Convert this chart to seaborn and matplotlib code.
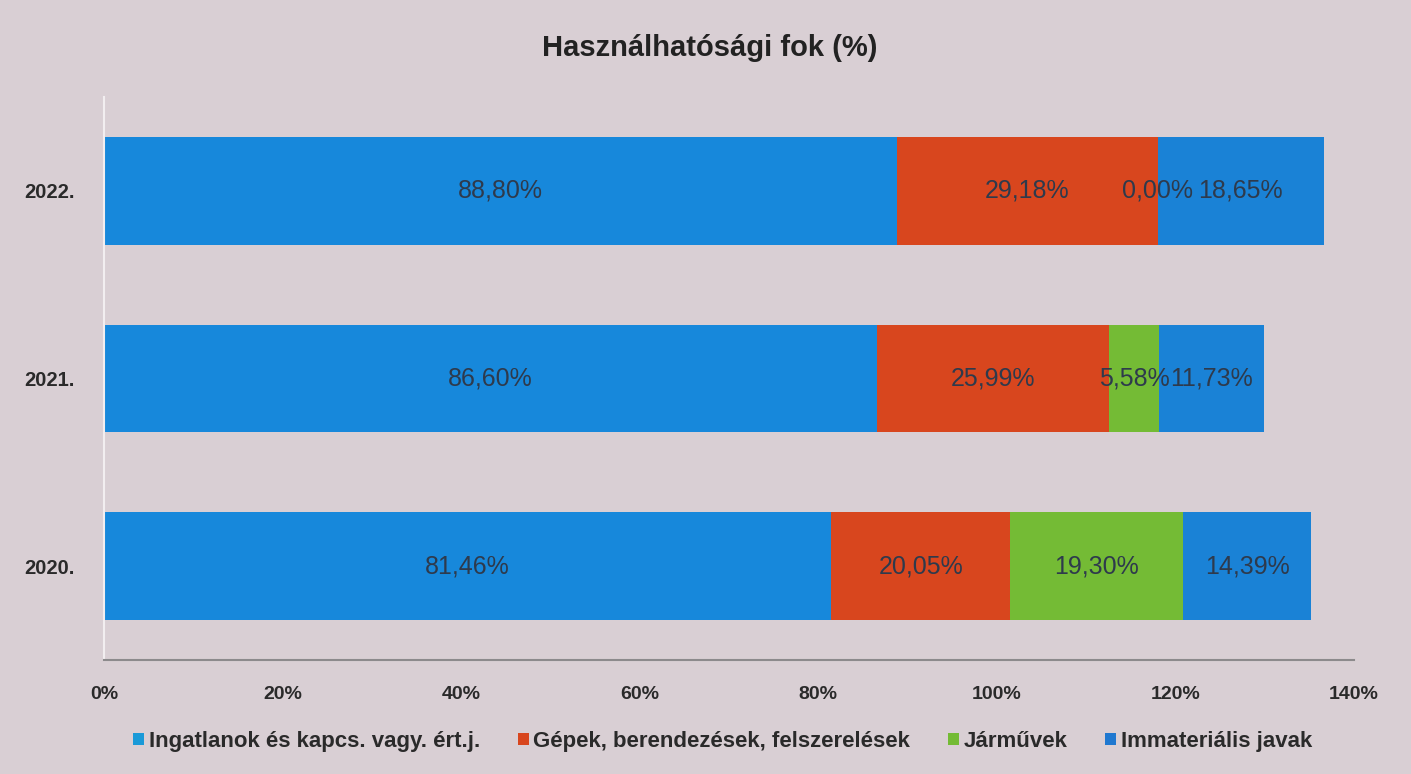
import numpy as np
import pandas as pd
import matplotlib
matplotlib.use("Agg")
import matplotlib.pyplot as plt
import seaborn as sns
from matplotlib.patches import Patch

# Usability ratio by asset group (%)
years = ["2022.", "2021.", "2020."]
series = ["Ingatlanok és kapcs. vagy. ért.j.",
          "Gépek, berendezések, felszerelések",
          "Járművek",
          "Immateriális javak"]
ingatlanok = [88.80, 86.60, 81.46]
gepek = [29.18, 25.99, 20.05]
jarmuvek = [0.00, 5.58, 19.30]
immaterialis = [18.65, 11.73, 14.39]
colors = ["#1788db", "#d8461e", "#74bb35", "#1a82d6"]
legend_colors = ["#1a9ad8", "#d8461e", "#74bb35", "#1f78d0"]
xticks = [0, 20, 40, 60, 80, 100, 120, 140]

values = np.array([ingatlanok, gepek, jarmuvek, immaterialis])
cum = np.cumsum(values, axis=0)

sns.set_theme(style="white")
plt.rcParams["font.family"] = ["Liberation Sans", "DejaVu Sans"]
bg = "#d9cfd4"

fig = plt.figure(figsize=(14.11, 7.74), dpi=100, facecolor=bg)
ax = fig.add_axes([0.0737, 0.1473, 0.886, 0.7274], facecolor=bg)

# stacked bars: draw cumulative totals from the outermost segment inward
for i in range(len(series) - 1, -1, -1):
    df = pd.DataFrame({"year": years, "value": cum[i]})
    sns.barplot(data=df, x="value", y="year", orient="h", order=years,
                color=colors[i], saturation=1, width=0.575, ax=ax,
                edgecolor="none", linewidth=0)

# segment labels centred in each segment
for i in range(len(series)):
    for j, y in enumerate(years):
        start = cum[i][j] - values[i][j]
        xc = start + values[i][j] / 2
        ax.text(xc, j, f"{values[i][j]:.2f}%".replace(".", ","),
                ha="center", va="center", fontsize=18, color="#2e3a4c")

ax.set_xlim(0, 140)
ax.set_ylim(2.5, -0.5)
ax.set_xticks(xticks)
ax.set_xticklabels([f"{t}%" for t in xticks], fontsize=14,
                   fontweight="bold", color="#2a2a2a")
ax.tick_params(axis="x", length=0, pad=19)
ax.tick_params(axis="y", length=0, pad=21)
for lab in ax.get_yticklabels():
    lab.set_fontsize(14.5)
    lab.set_fontweight("bold")
    lab.set_color("#2a2a2a")
ax.set_xlabel("")
ax.set_ylabel("")

for s in ["top", "right"]:
    ax.spines[s].set_visible(False)
ax.spines["left"].set_color("#f2eef0")
ax.spines["left"].set_linewidth(1.5)
ax.spines["bottom"].set_color("#8c8a8c")
ax.spines["bottom"].set_linewidth(1.5)

fig.text(0.503, 0.938, "Használhatósági fok (%)", ha="center", va="center",
         fontsize=21, fontweight="bold", color="#222222")

handles = [Patch(facecolor=c, edgecolor="none") for c in legend_colors]
leg = fig.legend(handles, series, loc="center", bbox_to_anchor=(0.512, 0.042),
                 ncol=4, frameon=False, handlelength=0.5, handleheight=0.5,
                 handletextpad=0.2, columnspacing=1.7,
                 prop={"size": 16, "weight": "bold"})
for t in leg.get_texts():
    t.set_color("#2a2a2a")

fig.savefig("out.png", dpi=100, facecolor=bg)
